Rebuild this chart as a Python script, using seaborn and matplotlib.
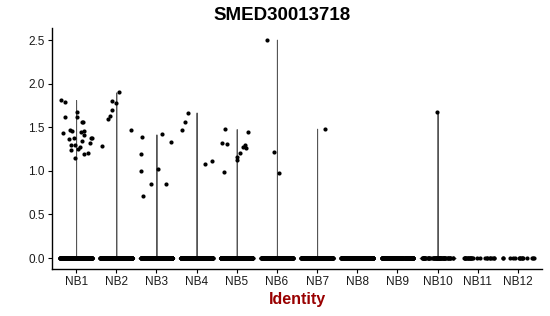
import numpy as np
import pandas as pd
import matplotlib
matplotlib.use("Agg")
import matplotlib.pyplot as plt
import seaborn as sns

# ---- data ----
categories = ["NB1", "NB2", "NB3", "NB4", "NB5", "NB6",
              "NB7", "NB8", "NB9", "NB10", "NB11", "NB12"]
zero_counts = [400, 380, 350, 330, 300, 280, 250, 220, 180, 60, 25, 15]
nb1_vals = [1.674, 1.56, 1.19, 1.556, 1.373, 1.15, 1.208, 1.456, 1.407, 1.373,
            1.322, 1.253, 1.468, 1.276, 1.342, 1.613, 1.239, 1.299, 1.437,
            1.368, 1.793, 1.445, 1.373, 1.617, 1.812, 1.456, 1.296]
nb2_vals = [1.90, 1.697, 1.632, 1.284, 1.804, 1.781, 1.598, 1.471]
nb3_vals = [1.418, 1.391, 1.334, 1.001, 1.193, 1.024, 0.707, 0.852, 0.852]
nb4_vals = [1.669, 1.074, 1.116, 1.563, 1.471]
nb5_vals = [1.303, 1.449, 1.277, 1.479, 1.265, 1.292, 1.20, 1.12, 1.158,
            0.986, 1.319]
nb6_vals = [1.219, 0.975, 2.504]
nb7_vals = [1.483]
nb10_vals = [1.671]
nonzero = {"NB1": nb1_vals, "NB2": nb2_vals, "NB3": nb3_vals, "NB4": nb4_vals,
           "NB5": nb5_vals, "NB6": nb6_vals, "NB7": nb7_vals, "NB10": nb10_vals}
y_ticks = [0.0, 0.5, 1.0, 1.5, 2.0, 2.5]

rows = []
for cat, n0 in zip(categories, zero_counts):
    vals = list(np.zeros(n0)) + list(nonzero.get(cat, []))
    for v in vals:
        rows.append((cat, v))
df = pd.DataFrame(rows, columns=["ident", "expr"])
df_violin = df[df["ident"].isin(list(nonzero.keys()))]

sns.set_theme(style="white")
plt.rcParams["font.family"] = ["Liberation Sans", "DejaVu Sans"]

fig = plt.figure(figsize=(5.5, 3.16), dpi=100)
ax = fig.add_axes([0.0945, 0.1487, 0.891, 0.762])

sns.violinplot(data=df_violin, x="ident", y="expr", order=categories,
               density_norm="width", cut=0, bw_adjust=0.01, inner=None,
               color="white", linecolor="#555555", linewidth=0.7, width=0.9,
               ax=ax)
np.random.seed(3)
sns.stripplot(data=df, x="ident", y="expr", order=categories, jitter=0.4,
              color="black", size=3, linewidth=0, ax=ax, zorder=3)

ax.set_xlim(-0.6, 11.6)
ax.set_ylim(-0.1255, 2.6355)
ax.set_yticks(y_ticks)
ax.set_yticklabels([f"{t:.1f}" for t in y_ticks])
for s in ["top", "right"]:
    ax.spines[s].set_visible(False)
for s in ["left", "bottom"]:
    ax.spines[s].set_color("black")
    ax.spines[s].set_linewidth(1.0)
ax.tick_params(axis="both", direction="out", length=3, width=0.8,
               color="black", labelsize=8.5, labelcolor="#1a1a1a", pad=2,
               bottom=True, left=True)
ax.set_ylabel("")
ax.set_xlabel("Identity", fontsize=11.5, fontweight="bold", color="#990000",
              labelpad=3)
fig.text(0.513, 0.951, "SMED30013718", ha="center", va="center",
         fontsize=13.5, fontweight="bold", color="black")

fig.savefig("out.png", dpi=100)
